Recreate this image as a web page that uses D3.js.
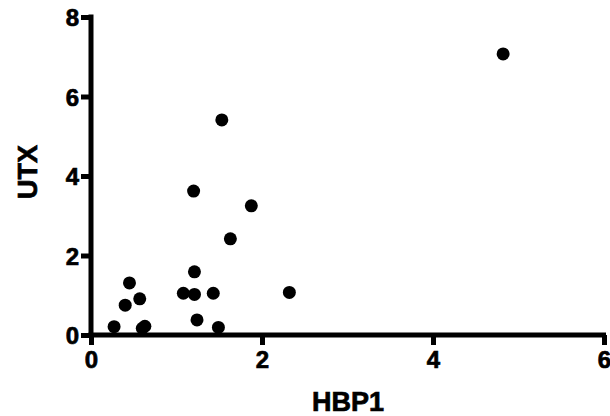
<!DOCTYPE html>
<html><head><meta charset="utf-8">
<script src="https://cdn.jsdelivr.net/npm/d3@7"></script>
<style>body{margin:0;background:#fff}svg{display:block}</style>
</head><body>
<svg id="c" width="610" height="416"></svg>
<script>
const hbp1 = [0.27,0.40,0.45,0.57,0.60,0.63,1.08,1.21,1.21,1.24,1.43,1.49,1.20,1.53,1.875,1.63,2.32,4.82];
const utx  = [0.21,0.75,1.31,0.91,0.17,0.22,1.05,1.02,1.59,0.38,1.05,0.19,3.62,5.41,3.25,2.42,1.07,7.07];
const xTicks = [0,2,4,6];
const yTicks = [0,2,4,6,8];
const xTitle = "HBP1", yTitle = "UTX";

const FONT = "'Liberation Sans', Arial, Helvetica, sans-serif";
const svg = d3.select("#c");
const x = d3.scaleLinear().domain([0,6]).range([91,604]);
const y = d3.scaleLinear().domain([0,8]).range([335,17]);

const xa = svg.append("g").attr("transform","translate(0,335)")
  .call(d3.axisBottom(x).tickValues(xTicks).tickSize(10).tickPadding(4).tickFormat(d3.format("d")));
const ya = svg.append("g").attr("transform","translate(91,0)")
  .call(d3.axisLeft(y).tickValues(yTicks).tickSize(10).tickPadding(2).tickFormat(d3.format("d")));
function boldText(sel, size){
  sel.attr("fill","#000").attr("font-family",FONT).attr("font-size",size).attr("font-weight","bold")
     .attr("stroke","#000").attr("stroke-width",0.7);
}
[xa,ya].forEach(g=>{
  g.attr("font-family",FONT).attr("font-size",24).attr("font-weight","bold");
  g.select(".domain").attr("stroke","#000").attr("stroke-width",5);
  g.selectAll(".tick line").attr("stroke","#000").attr("stroke-width",5);
  boldText(g.selectAll("text"), 24);
});
xa.select(".domain").attr("d","M88.5,0H606");
ya.select(".domain").attr("d","M0,337.5V14.5");
xa.selectAll("text").attr("dy","0.78em");
ya.selectAll("text").attr("dy","0.36em");

svg.append("g").selectAll("circle").data(hbp1.map((v,i)=>[v,utx[i]])).join("circle")
  .attr("cx",d=>x(d[0])).attr("cy",d=>y(d[1])).attr("r",6.5).attr("fill","#000");

boldText(svg.append("text").attr("x",348).attr("y",411).attr("text-anchor","middle").text(xTitle), 27);
boldText(svg.append("text").attr("transform","translate(37,172) rotate(-90)").attr("text-anchor","middle").text(yTitle), 27);
</script>
</body></html>
